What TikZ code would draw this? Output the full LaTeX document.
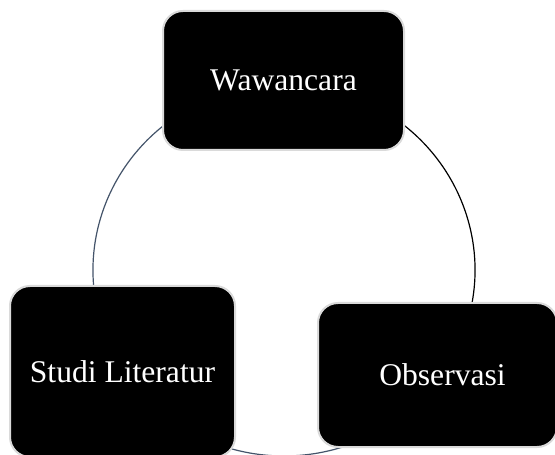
\documentclass[tikz,border=0pt]{standalone}
\usepackage{fontspec}
\setmainfont{Liberation Serif}
\definecolor{arcgray}{HTML}{44546A}
\definecolor{boxedge}{HTML}{DADADA}
\tikzset{
  cyclebox/.style={draw=boxedge, line width=1pt, fill=black, rounded corners=10pt,
    text=white, inner sep=0pt, outer sep=0pt,
    font=\fontsize{15.8}{19}\selectfont},
  cyclearc/.style={line width=0.6pt},
}
\begin{document}
\begin{tikzpicture}[x=0.5pt, y=0.5pt]
  \useasboundingbox (0,0) rectangle (555,454);
  \clip (0,0) rectangle (555,454);
  \fill[white] (0,0) rectangle (555,454);
  \coordinate (c) at (284,184);
  % arcs (ends hidden under boxes)
  \draw[cyclearc, black] (c) ++(70:191 and 186) arc[start angle=70, end angle=-20, x radius=191, y radius=186];
  \draw[cyclearc, arcgray] (c) ++(300:191 and 186) arc[start angle=300, end angle=240, x radius=191, y radius=186];
  \draw[cyclearc, arcgray] (c) ++(200:191 and 186) arc[start angle=200, end angle=110, x radius=191, y radius=186];
  % boxes
  \node[cyclebox, minimum width=120.5pt, minimum height=69.5pt] (top) at (283.5,373.5) {Wawancara};
  \node[cyclebox, minimum width=112.5pt, minimum height=85.5pt] (left) at (122.5,82.5) {Studi Literatur};
  \node[cyclebox, minimum width=119.5pt, minimum height=72pt] (right) at (437.5,79) {\hspace*{5pt}Observasi};
\end{tikzpicture}
\end{document}
